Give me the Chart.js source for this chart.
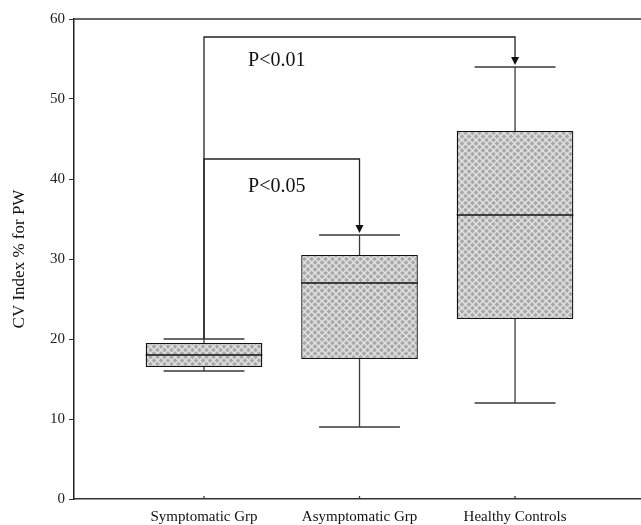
<!DOCTYPE html>
<html>
<head>
<meta charset="utf-8">
<script src="https://cdn.jsdelivr.net/npm/chart.js@4/dist/chart.umd.min.js"></script>
<style>
  html, body { margin: 0; padding: 0; background: #fff; }
  #wrap { width: 641px; height: 525px; }
</style>
</head>
<body>
<div id="wrap"><canvas id="chart1"></canvas></div>
<script>
// data
var categories = ['Symptomatic Grp', 'Asymptomatic Grp', 'Healthy Controls'];
var positions = [1, 2, 3];
var whiskerLow = [16, 9, 12];
var q1 = [16.5, 17.5, 22.5];
var median = [18, 27, 35.5];
var q3 = [19.5, 30.5, 46];
var whiskerHigh = [20, 33, 54];
var yTicks = [0, 10, 20, 30, 40, 50, 60];

// significance brackets
var compFrom = [1, 1];
var compTo = [3, 2];
var compLevel = [57.75, 42.5];
var compLabel = ['P<0.01', 'P<0.05'];
var compLabelX = [1.283, 1.283];
var compLabelY = [54.8, 39];

Chart.defaults.font.family = "'Liberation Serif', 'Times New Roman', serif";
Chart.defaults.color = '#222';

// crosshatch fill
var pc = document.createElement('canvas');
pc.width = 7; pc.height = 7;
var p = pc.getContext('2d');
p.fillStyle = '#a9a9a9';
p.fillRect(0, 0, 7, 7);
p.strokeStyle = '#e2e2e2';
p.lineWidth = 1.5;
p.beginPath();
p.moveTo(-1, -1); p.lineTo(8, 8);
p.moveTo(-1, 8); p.lineTo(8, -1);
p.stroke();

var ctx1 = document.getElementById('chart1').getContext('2d');
var hatch = ctx1.createPattern(pc, 'repeat');

var boxExtras = {
  id: 'boxExtras',
  afterDatasetsDraw: function(chart) {
    var c = chart.ctx, x = chart.scales.x, y = chart.scales.y, a = chart.chartArea;
    var capHalf = 0.26;
    var half = 0.375;
    c.save();
    // top frame line
    c.strokeStyle = '#333';
    c.lineWidth = 1.5;
    c.beginPath();
    c.moveTo(a.left, a.top); c.lineTo(a.right, a.top);
    c.stroke();

    c.strokeStyle = '#3a3a3a';
    c.lineWidth = 1.3;
    for (var i = 0; i < positions.length; i++) {
      var px = x.getPixelForValue(positions[i]);
      c.beginPath();
      // whiskers
      c.moveTo(px, y.getPixelForValue(q3[i])); c.lineTo(px, y.getPixelForValue(whiskerHigh[i]));
      c.moveTo(px, y.getPixelForValue(q1[i])); c.lineTo(px, y.getPixelForValue(whiskerLow[i]));
      // caps
      c.moveTo(x.getPixelForValue(positions[i] - capHalf), y.getPixelForValue(whiskerHigh[i]));
      c.lineTo(x.getPixelForValue(positions[i] + capHalf), y.getPixelForValue(whiskerHigh[i]));
      c.moveTo(x.getPixelForValue(positions[i] - capHalf), y.getPixelForValue(whiskerLow[i]));
      c.lineTo(x.getPixelForValue(positions[i] + capHalf), y.getPixelForValue(whiskerLow[i]));
      c.stroke();
      // median
      c.strokeStyle = '#111';
      c.lineWidth = 1.5;
      c.beginPath();
      c.moveTo(x.getPixelForValue(positions[i] - half), y.getPixelForValue(median[i]));
      c.lineTo(x.getPixelForValue(positions[i] + half), y.getPixelForValue(median[i]));
      c.stroke();
      c.strokeStyle = '#3a3a3a';
      c.lineWidth = 1.3;
      // small inside x tick
      c.beginPath();
      c.moveTo(px, a.bottom); c.lineTo(px, a.bottom - 3);
      c.stroke();
    }

    // brackets with arrows
    for (var k = 0; k < compFrom.length; k++) {
      var fi = positions.indexOf(compFrom[k]);
      var ti = positions.indexOf(compTo[k]);
      var x0 = x.getPixelForValue(compFrom[k]);
      var x1 = x.getPixelForValue(compTo[k]);
      var yl = y.getPixelForValue(compLevel[k]);
      var tip = y.getPixelForValue(whiskerHigh[ti]) - 2;
      c.strokeStyle = '#222';
      c.lineWidth = 1.3;
      c.beginPath();
      c.moveTo(x0, y.getPixelForValue(whiskerHigh[fi]));
      c.lineTo(x0, yl);
      c.lineTo(x1, yl);
      c.lineTo(x1, tip - 6);
      c.stroke();
      c.fillStyle = '#111';
      c.beginPath();
      c.moveTo(x1 - 4, tip - 8);
      c.lineTo(x1 + 4, tip - 8);
      c.lineTo(x1, tip);
      c.closePath();
      c.fill();
      c.font = "20px 'Liberation Serif', 'Times New Roman', serif";
      c.textBaseline = 'middle';
      c.textAlign = 'left';
      c.fillText(compLabel[k], x.getPixelForValue(compLabelX[k]), y.getPixelForValue(compLabelY[k]));
    }
    c.restore();
  }
};

var chart1 = new Chart(ctx1, {
  type: 'bar',
  data: {
    datasets: [{
      label: 'IQR',
      data: positions.map(function(v, i) { return { x: v, y: [q1[i], q3[i]] }; }),
      backgroundColor: hatch,
      borderColor: '#111',
      borderWidth: 1.3,
      borderSkipped: false,
      barPercentage: 0.75,
      categoryPercentage: 1
    }]
  },
  options: {
    responsive: true,
    maintainAspectRatio: false,
    animation: false,
    layout: { padding: { top: 19, right: 0, left: 0, bottom: 0 } },
    plugins: {
      legend: { display: false },
      tooltip: { enabled: false }
    },
    scales: {
      x: {
        type: 'linear',
        offset: false,
        min: 0.164,
        max: 3.81,
        afterFit: function(s) { s.height = 26; },
        afterBuildTicks: function(s) { s.ticks = positions.map(function(v) { return { value: v }; }); },
        grid: { display: false },
        border: { display: true, color: '#333', width: 1.5 },
        ticks: {
          padding: 1,
          font: { size: 15 },
          color: '#111',
          callback: function(v) { var i = positions.indexOf(v); return i >= 0 ? categories[i] : ''; }
        }
      },
      y: {
        min: 0,
        max: 60,
        afterFit: function(s) { s.width = 74; },
        afterBuildTicks: function(s) { s.ticks = yTicks.map(function(v) { return { value: v }; }); },
        grid: { drawOnChartArea: false, tickLength: 5, color: '#333' },
        border: { display: true, color: '#222', width: 1.5 },
        ticks: { padding: 4, font: { size: 15 }, color: '#222' },
        title: {
          display: true,
          text: 'CV Index % for PW',
          font: { size: 17 },
          color: '#111',
          padding: { top: 9, bottom: 0 }
        }
      }
    }
  },
  plugins: [boxExtras]
});
</script>
</body>
</html>
